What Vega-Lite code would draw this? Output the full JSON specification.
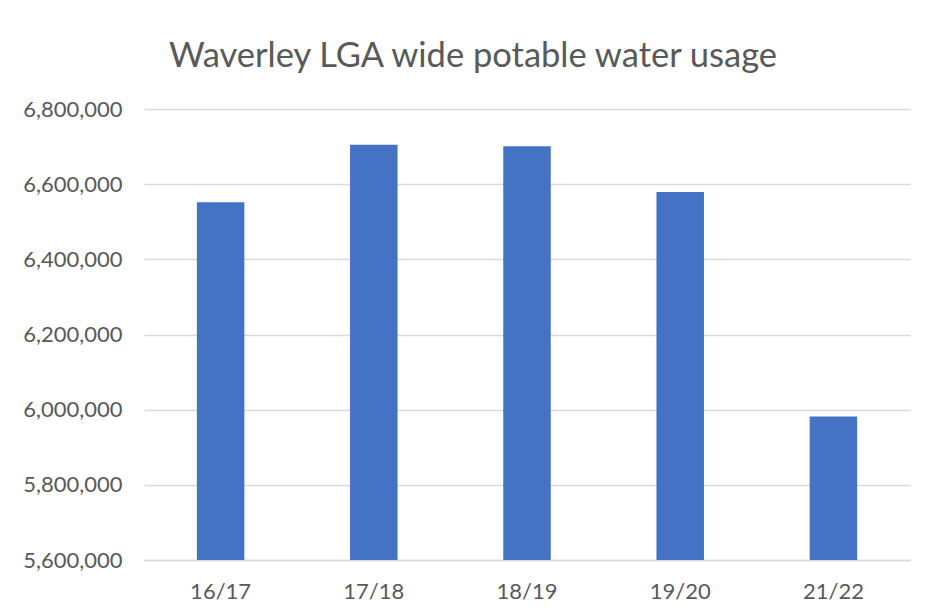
{
  "$schema": "https://vega.github.io/schema/vega-lite/v6.json",
  "autosize": "none",
  "width": 766,
  "height": 451,
  "padding": {"left": 144, "top": 109, "right": 17, "bottom": 55},
  "background": "white",
  "title": {
    "text": "Waverley LGA wide potable water usage",
    "anchor": "middle",
    "frame": "group",
    "dx": -54,
    "dy": 44,
    "offset": 41,
    "baseline": "alphabetic",
    "font": "Lato",
    "fontSize": 34.5,
    "fontWeight": "normal",
    "color": "#595959"
  },
  "data": {
    "values": [
      {"year": "16/17", "usage": 6552000},
      {"year": "17/18", "usage": 6705000},
      {"year": "18/19", "usage": 6701000},
      {"year": "19/20", "usage": 6579000},
      {"year": "21/22", "usage": 5982000}
    ]
  },
  "mark": {"type": "bar", "color": "#4472C4", "clip": true},
  "encoding": {
    "x": {
      "field": "year",
      "type": "nominal",
      "sort": null,
      "title": null,
      "scale": {"paddingInner": 0.69, "paddingOuter": 0.345},
      "axis": {
        "labelAngle": 0,
        "labelFont": "Lato",
        "labelFontSize": 22,
        "labelColor": "#595959",
        "labelPadding": 21,
        "ticks": false,
        "domain": true,
        "domainColor": "#D9D9D9",
        "domainWidth": 1.5
      }
    },
    "y": {
      "field": "usage",
      "type": "quantitative",
      "title": null,
      "scale": {"domain": [5600000, 6800000], "zero": false, "nice": false},
      "axis": {
        "values": [5600000, 5800000, 6000000, 6200000, 6400000, 6600000, 6800000],
        "format": ",d",
        "labelFont": "Lato",
        "labelFontSize": 22,
        "labelColor": "#595959",
        "labelPadding": 22,
        "ticks": false,
        "domain": false,
        "grid": true,
        "gridColor": "#D9D9D9",
        "gridWidth": 1.5
      }
    }
  },
  "config": {
    "view": {"stroke": null}
  }
}
